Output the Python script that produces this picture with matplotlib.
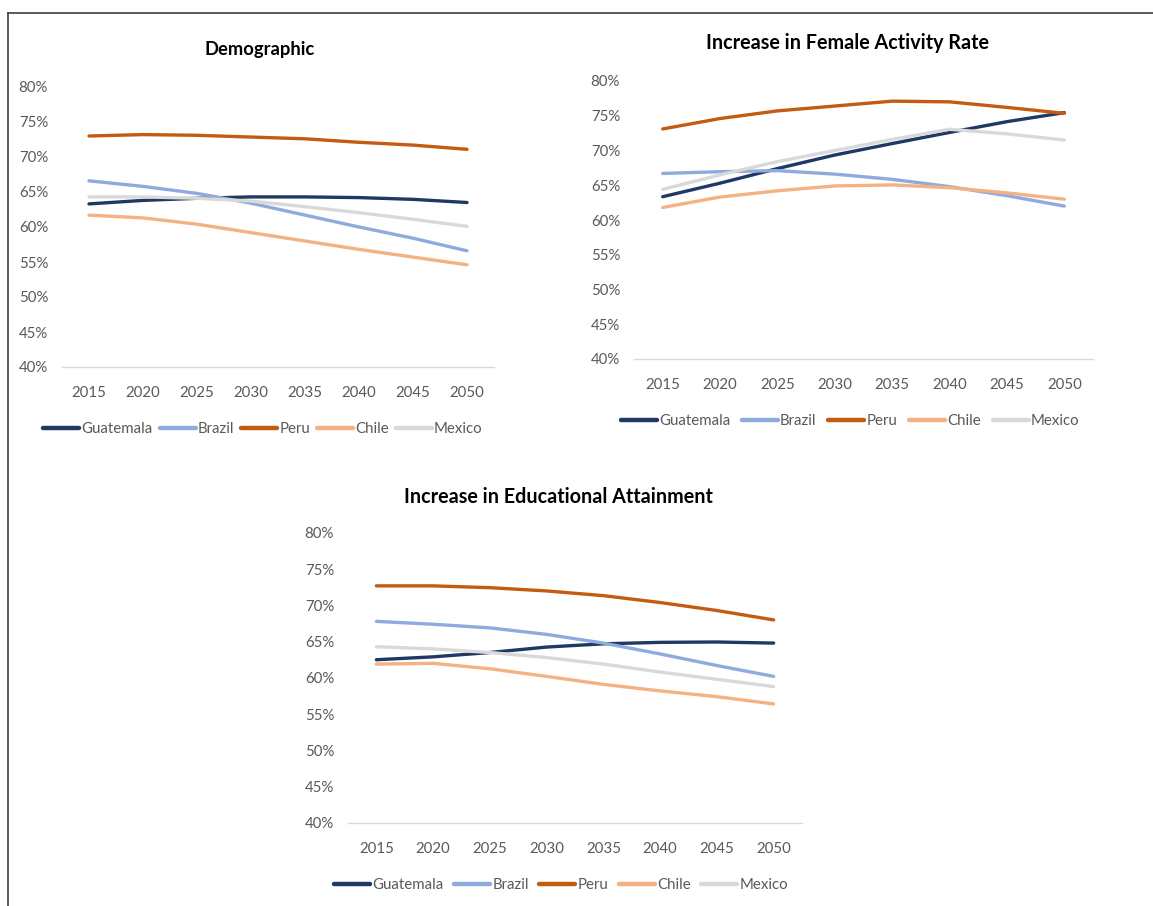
import matplotlib
matplotlib.use("Agg")
import matplotlib.pyplot as plt
from matplotlib.lines import Line2D
from matplotlib.ticker import FuncFormatter

plt.rcParams['font.family'] = ['Lato', 'DejaVu Sans']

years = ["2015", "2020", "2025", "2030", "2035", "2040", "2045", "2050"]
countries = ["Guatemala", "Brazil", "Peru", "Chile", "Mexico"]
colors = ["#1F3864", "#8FAADC", "#C55A11", "#F4B183", "#D9D9D9"]

# Demographic
demo_guatemala = [63.3, 63.8, 64.1, 64.3, 64.3, 64.2, 63.95, 63.5]
demo_brazil = [66.6, 65.8, 64.8, 63.4, 61.7, 60.0, 58.4, 56.6]
demo_peru = [73.0, 73.2, 73.1, 72.85, 72.6, 72.1, 71.7, 71.1]
demo_chile = [61.7, 61.3, 60.4, 59.2, 58.0, 56.8, 55.7, 54.6]
demo_mexico = [64.3, 64.3, 64.1, 63.7, 62.9, 62.05, 61.1, 60.1]

# Increase in Female Activity Rate
fem_guatemala = [63.35, 65.3, 67.4, 69.35, 71.0, 72.6, 74.15, 75.45]
fem_brazil = [66.7, 66.95, 67.1, 66.6, 65.85, 64.8, 63.5, 62.0]
fem_peru = [73.1, 74.6, 75.7, 76.4, 77.1, 77.0, 76.2, 75.35]
fem_chile = [61.8, 63.3, 64.2, 64.9, 65.05, 64.65, 63.9, 63.0]
fem_mexico = [64.4, 66.5, 68.4, 70.0, 71.6, 73.05, 72.4, 71.5]

# Increase in Educational Attainment
edu_guatemala = [62.5, 62.9, 63.5, 64.25, 64.7, 64.9, 64.95, 64.8]
edu_brazil = [67.8, 67.4, 66.9, 66.0, 64.8, 63.3, 61.7, 60.2]
edu_peru = [72.7, 72.7, 72.45, 72.0, 71.35, 70.4, 69.3, 68.0]
edu_chile = [61.9, 62.0, 61.25, 60.2, 59.1, 58.2, 57.4, 56.4]
edu_mexico = [64.3, 64.0, 63.5, 62.8, 61.9, 60.8, 59.8, 58.8]

yticks = [40, 45, 50, 55, 60, 65, 70, 75, 80]

W, H = 1153, 906
fig = plt.figure(figsize=(W / 100, H / 100), dpi=100)


def px_axes(left, right, top, bottom):
    return fig.add_axes([left / W, 1 - bottom / H, (right - left) / W, (bottom - top) / H])


def draw(ax, series, title, title_xy, title_size, legend_y, legend_cx, colspace):
    for name, vals, c in zip(countries, series, colors):
        ax.plot(range(len(years)), vals, color=c, lw=2.4, solid_capstyle='round',
                solid_joinstyle='round', label=name)
    ax.set_xlim(-0.5, len(years) - 0.5)
    ax.set_ylim(40, 80)
    ax.set_yticks(yticks)
    ax.yaxis.set_major_formatter(FuncFormatter(lambda v, p: f"{int(v)}%"))
    ax.set_xticks(range(len(years)))
    ax.set_xticklabels(years)
    for s in ['top', 'right', 'left']:
        ax.spines[s].set_visible(False)
    ax.spines['bottom'].set_color('#D9D9D9')
    ax.spines['bottom'].set_linewidth(1.0)
    ax.tick_params(axis='both', length=0, labelsize=10.8, labelcolor='#595959')
    ax.tick_params(axis='x', pad=14)
    ax.tick_params(axis='y', pad=10)
    fig.text(title_xy[0] / W, 1 - title_xy[1] / H, title, ha='center', va='center',
             fontsize=title_size, fontweight='bold', color='black')
    handles = [Line2D([0], [0], color=c, lw=3.2, solid_capstyle='round') for c in colors]
    fig.legend(handles, countries, loc='center', ncol=5,
               bbox_to_anchor=(legend_cx / W, 1 - legend_y / H), frameon=False,
               fontsize=10.8, labelcolor='#595959', handlelength=2.4,
               handletextpad=0.15, columnspacing=colspace, borderpad=0, borderaxespad=0)


ax1 = px_axes(62, 494, 87, 367)
draw(ax1, [demo_guatemala, demo_brazil, demo_peru, demo_chile, demo_mexico],
     "Demographic", (260, 50), 13.2, 429, 263, 0.45)

ax2 = px_axes(634, 1093, 81, 359)
draw(ax2, [fem_guatemala, fem_brazil, fem_peru, fem_chile, fem_mexico],
     "Increase in Female Activity Rate", (847, 43), 14.2, 421, 850, 0.78)

ax3 = px_axes(348, 802, 533, 822.7)
draw(ax3, [edu_guatemala, edu_brazil, edu_peru, edu_chile, edu_mexico],
     "Increase in Educational Attainment", (558, 497), 14.2, 885, 561, 0.7)

# outer frame lines (top and left)
fig.add_artist(Line2D([8 / W, 1], [1 - 13 / H, 1 - 13 / H], color='#404040', lw=1.2,
                      transform=fig.transFigure))
fig.add_artist(Line2D([8 / W, 8 / W], [0, 1 - 13 / H], color='#404040', lw=1.2,
                      transform=fig.transFigure))

fig.savefig("out.png", dpi=100, facecolor='white')
